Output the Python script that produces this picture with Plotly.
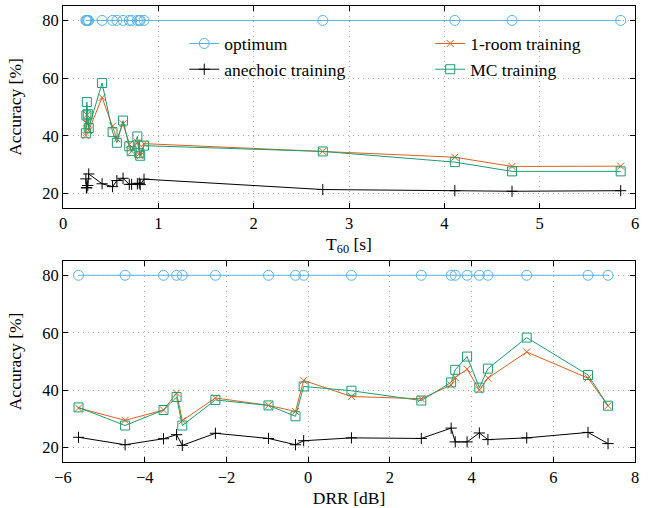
import plotly.graph_objects as go

# Per-room data (rooms listed in order of increasing DRR)
drr_db = [-5.62, -4.48, -3.54, -3.22, -3.08, -2.27, -0.97, -0.31, -0.11, 1.06,
          2.77, 3.50, 3.60, 3.89, 4.19, 4.40, 5.35, 6.85, 7.34]
t60_s = [0.80, 5.85, 0.81, 0.565, 4.71, 0.85, 0.72, 4.11, 0.52, 0.78,
         0.695, 0.27, 0.245, 0.25, 0.24, 0.26, 0.41, 0.63, 2.725]
acc_optimum = [80.0] * 19
acc_anechoic = [23.6, 21.0, 23.1, 24.5, 20.8, 25.0, 23.2, 21.0, 22.4, 23.4,
                23.2, 26.8, 22.0, 22.0, 25.1, 22.8, 23.4, 25.3, 21.4]
acc_1room = [33.8, 29.5, 33.1, 39.0, 29.4, 37.3, 34.7, 32.6, 43.4, 37.8,
             37.0, 41.8, 44.4, 47.3, 40.1, 44.2, 53.3, 44.2, 34.6]
acc_mc = [34.0, 27.7, 33.1, 37.6, 27.7, 36.6, 34.7, 30.9, 41.3, 39.8,
          36.4, 42.7, 47.1, 51.7, 40.9, 47.5, 58.3, 45.3, 34.6]

series = [
    ("optimum", acc_optimum, "#56B4E9", "circle-open", 10, "legend"),
    ("anechoic training", acc_anechoic, "#000000", "cross-thin-open", 8, "legend"),
    ("1-room training", acc_1room, "#E0601A", "x-thin-open", 7, "legend2"),
    ("MC training", acc_mc, "#1A9E72", "square-open", 9, "legend2"),
]

FONT = "Liberation Serif, DejaVu Serif, serif"

def sort_by(key, vals):
    idx = sorted(range(len(key)), key=lambda i: key[i])
    return [key[i] for i in idx], [vals[i] for i in idx]

fig = go.Figure()
for name, vals, color, sym, size, leg in series:
    xs, ys = sort_by(t60_s, vals)
    fig.add_trace(go.Scatter(
        x=xs, y=ys, mode="lines+markers", name=name,
        line=dict(color=color, width=1),
        marker=dict(symbol=sym, size=size, color=color, line=dict(color=color, width=1)),
        xaxis="x", yaxis="y", legend=leg, showlegend=True))
for name, vals, color, sym, size, leg in series:
    xs, ys = sort_by(drr_db, vals)
    fig.add_trace(go.Scatter(
        x=xs, y=ys, mode="lines+markers", name=name,
        line=dict(color=color, width=1),
        marker=dict(symbol=sym, size=size, color=color, line=dict(color=color, width=1)),
        xaxis="x2", yaxis="y2", showlegend=False))

axis_common = dict(
    showline=True, linecolor="black", linewidth=1, mirror="ticks",
    ticks="inside", ticklen=5, tickcolor="black",
    showgrid=True, gridcolor="#a8a8a8", griddash="1px,4px", gridwidth=1,
    zeroline=False, tickfont=dict(family=FONT, size=16.5, color="black"),
    automargin=False,
)
TFONT = dict(family=FONT, size=17.5, color="black")

fig.update_layout(
    width=648, height=508,
    margin=dict(l=63, r=13, t=6, b=46),
    paper_bgcolor="white", plot_bgcolor="white",
    font=dict(family=FONT, size=16, color="black"),
    xaxis=dict(domain=[0, 1], anchor="y", range=[0, 6], dtick=1,
               title=dict(text="T<sub>60</sub> [s]", standoff=5, font=TFONT),
               **axis_common),
    yaxis=dict(domain=[0.557, 1], anchor="x", range=[15, 85], tickvals=[20, 40, 60, 80],
               title=dict(text="Accuracy [%]", standoff=16, font=TFONT),
               **axis_common),
    xaxis2=dict(domain=[0, 1], anchor="y2", range=[-6, 8], dtick=2,
                title=dict(text="DRR [dB]", standoff=5, font=TFONT),
                **axis_common),
    yaxis2=dict(domain=[0, 0.441], anchor="x2", range=[15, 85], tickvals=[20, 40, 60, 80],
                title=dict(text="Accuracy [%]", standoff=16, font=TFONT),
                **axis_common),
    legend=dict(x=0.212, y=0.957, xanchor="left", yanchor="top",
                bgcolor="rgba(0,0,0,0)", font=dict(family=FONT, size=17.5),
                tracegroupgap=0, itemwidth=30),
    legend2=dict(x=0.642, y=0.957, xanchor="left", yanchor="top",
                 bgcolor="rgba(0,0,0,0)", font=dict(family=FONT, size=17.5),
                 tracegroupgap=0, itemwidth=30),
)

fig.write_html("out.html", config={"displayModeBar": False},
               post_script="document.body.style.margin='0';")
